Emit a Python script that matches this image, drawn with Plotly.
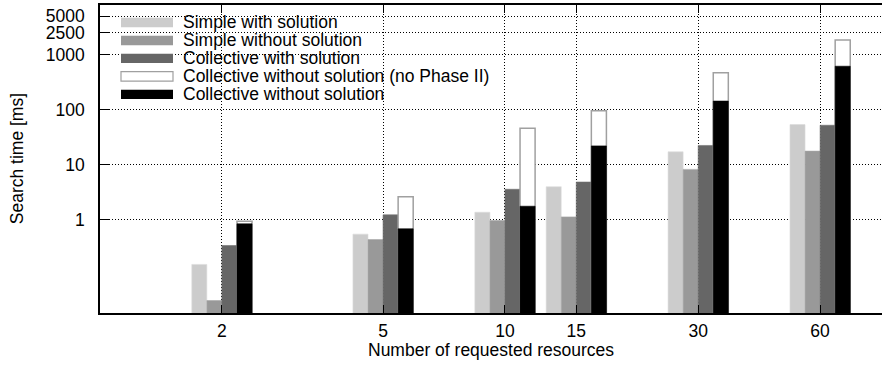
import numpy as np
import plotly.graph_objects as go

resources = [2, 5, 10, 15, 30, 60]
tick_labels = ["2", "5", "10", "15", "30", "60"]
simple_with = [0.153, 0.544, 1.36, 3.96, 17.1, 53.5]
simple_without = [0.0337, 0.434, 0.96, 1.12, 8.19, 17.6]
collective_with = [0.338, 1.22, 3.56, 4.82, 22.3, 52.0]
collective_without_no2 = [0.935, 2.61, 45.8, 95.9, 468, 1854]
collective_without = [0.836, 0.68, 1.75, 21.9, 143, 616]
y_ticks = [1, 10, 100, 1000, 2500, 5000]

series = [
    ("Simple with solution", simple_with, "#cccccc", "#dcdcdc", 0.6, 0),
    ("Simple without solution", simple_without, "#999999", "#a8a8a8", 0.6, 1),
    ("Collective with solution", collective_with, "#666666", "#707070", 0.6, 2),
    ("Collective without solution (no Phase II)", collective_without_no2, "#ffffff", "#a0a0a0", 1.5, 3),
    ("Collective without solution", collective_without, "#000000", "#000000", 0.6, 3),
]

pos = np.log10(resources)
W = 0.0372  # bar width in axis units (log10 of resources)
FONT = "Liberation Sans, Arial, Helvetica, sans-serif"
FS = 17.5

L, R = 100, 882
top, bottom = 4.5, 313


def px_x(p):
    return (p - L) / (R - L)


def px_y(p):
    return (bottom - p) / (bottom - top)


fig = go.Figure()
for name, vals, fill, edge, lw, slot in series:
    fig.add_trace(go.Bar(
        x=pos, y=vals, name=name, width=W, offset=(slot - 2) * W,
        marker=dict(color=fill, line=dict(color=edge, width=lw)),
        showlegend=False, hoverinfo="skip",
    ))

# legend background (covers grid lines) and manual legend
fig.add_shape(type="rect", xref="x domain", yref="y domain", x0=0, x1=px_x(624), y0=px_y(104), y1=1.0,
              fillcolor="white", line=dict(width=0), layer="below")
row_y = [22, 40, 58, 76, 94]
for (name, vals, fill, edge, lw, slot), ry in zip(series, row_y):
    fig.add_shape(type="rect", xref="paper", yref="paper",
                  x0=px_x(121), x1=px_x(173),
                  y0=px_y(ry + 4.7), y1=px_y(ry - 4.7),
                  fillcolor=fill, line=dict(color=edge, width=1.2 if fill == "#ffffff" else 0),
                  layer="above")
    fig.add_annotation(xref="paper", yref="paper", x=px_x(182), y=px_y(ry),
                       text=name, showarrow=False, xanchor="left", yanchor="middle",
                       borderpad=0, font=dict(family=FONT, size=FS, color="black"))

# axis titles
fig.add_annotation(xref="paper", yref="paper", x=px_x(491), y=px_y(350.5),
                   text="Number of requested resources", showarrow=False,
                   xanchor="center", yanchor="middle", borderpad=0,
                   font=dict(family=FONT, size=FS, color="black"))
fig.add_annotation(xref="paper", yref="paper", x=px_x(17), y=px_y(159),
                   text="Search time [ms]", showarrow=False, textangle=-90,
                   xanchor="center", yanchor="middle", borderpad=0,
                   font=dict(family=FONT, size=FS, color="black"))

fig.update_layout(
    width=882, height=370,
    margin=dict(l=L, r=882 - R, t=top, b=370 - bottom, autoexpand=False),
    barmode="overlay",
    plot_bgcolor="white", paper_bgcolor="white",
    font=dict(family=FONT, size=FS, color="black"),
)
fig.update_xaxes(
    range=[0, 1.931], tickvals=pos, ticktext=tick_labels,
    ticks="inside", ticklen=8, tickwidth=1, tickcolor="black",
    showline=True, linecolor="black", linewidth=1.5, mirror="allticks",
    showgrid=True, gridcolor="black", griddash="1px,2px", gridwidth=1,
    zeroline=False, automargin=False, ticklabelstandoff=1,
    tickfont=dict(size=FS),
)
fig.update_yaxes(
    type="log", range=[np.log10(0.02), np.log10(8000)],
    tickvals=y_ticks, ticktext=[str(v) for v in y_ticks],
    ticks="inside", ticklen=9, tickwidth=1, tickcolor="black",
    showline=True, linecolor="black", linewidth=1.5, mirror=False,
    showgrid=True, gridcolor="black", griddash="1px,2px", gridwidth=1,
    zeroline=False, automargin=False, ticklabelstandoff=10,
    tickfont=dict(size=FS),
)

fig.write_html("out.html", config={"displayModeBar": False},
               post_script="document.body.style.margin='0';")
